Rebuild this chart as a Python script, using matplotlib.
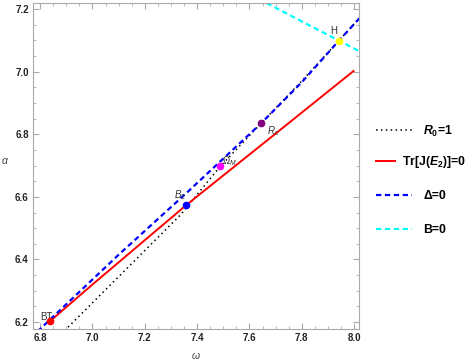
import matplotlib.pyplot as plt
from matplotlib.lines import Line2D
from matplotlib.ticker import MultipleLocator

plt.rcParams["font.family"] = ["Liberation Sans", "DejaVu Sans"]
plt.rcParams["mathtext.fontset"] = "custom"
plt.rcParams["mathtext.rm"] = "Liberation Sans"
plt.rcParams["mathtext.it"] = "Liberation Sans:italic"
plt.rcParams["mathtext.bf"] = "Liberation Sans:bold"
plt.rcParams["mathtext.bfit"] = "Liberation Sans:italic:bold"

# curve samples (omega, alpha)
r0_w = [6.88, 6.907, 7.10, 7.336, 7.489, 7.646, 7.80, 7.941, 8.03]
r0_a = [6.162, 6.184, 6.345, 6.542, 6.698, 6.836, 6.970, 7.098, 7.180]

tr_w = [6.838, 7.00, 7.359, 7.70, 7.998]
tr_a = [6.203, 6.320, 6.574, 6.802, 7.002]

delta_w = [6.79, 6.8077, 7.10, 7.359, 7.646, 7.80, 7.941, 8.03]
delta_a = [6.170, 6.184, 6.415, 6.612, 6.836, 6.966, 7.098, 7.179]

b_w = [7.60, 8.05]
b_a = [7.247, 7.052]

# special points
pt_names = ["BT", "$B_2$", r"$\Omega_{M}$", "$R_c$", "H"]
pt_w = [6.838, 7.359, 7.489, 7.646, 7.941]
pt_a = [6.203, 6.574, 6.698, 6.836, 7.098]
pt_colors = ["red", "blue", "magenta", "purple", "yellow"]
lab_w = [6.825, 7.336, 7.522, 7.690, 7.922]
lab_a = [6.216, 6.606, 6.715, 6.810, 7.130]

fig = plt.figure(figsize=(4.75, 3.61), dpi=100)
ax = fig.add_axes([0.0695, 0.0886, 0.6865, 0.9031])

dots = (0, (1, 2.2))
dash = (0, (2.4, 1.6))
ax.plot(r0_w, r0_a, color="black", ls=dots, lw=1.1)
ax.plot(tr_w, tr_a, color="red", lw=1.4)
ax.plot(delta_w, delta_a, color="blue", ls=dash, lw=1.6)
ax.plot(b_w, b_a, color="cyan", ls=dash, lw=1.6)

for n, w, a, c, lw_, la in zip(pt_names, pt_w, pt_a, pt_colors, lab_w, lab_a):
    ax.plot(w, a, "o", color=c, ms=4.5, zorder=5)
    ax.text(lw_, la, n, fontsize=7, color="#333333", ha="center", va="center")

ax.set_xlim(6.773, 8.019)
ax.set_ylim(6.178, 7.219)
ax.xaxis.set_major_locator(MultipleLocator(0.2))
ax.xaxis.set_minor_locator(MultipleLocator(0.05))
ax.yaxis.set_major_locator(MultipleLocator(0.2))
ax.yaxis.set_minor_locator(MultipleLocator(0.05))
ax.xaxis.set_major_formatter(lambda v, p: f"{v:.1f}")
ax.yaxis.set_major_formatter(lambda v, p: f"{v:.1f}")

for s in ax.spines.values():
    s.set_color("#aaaaaa")
ax.tick_params(which="both", direction="in", top=True, right=True, color="#aaaaaa",
               labelsize=7, labelcolor="#222222", pad=3)
ax.tick_params(which="major", length=4.5, width=0.8)
ax.tick_params(which="minor", length=2.5, width=0.6)
for t in ax.get_xticklabels() + ax.get_yticklabels():
    t.set_fontweight("bold")

ax.set_xlabel(r"$\omega$", fontsize=7.5, color="#444444")
ax.set_ylabel(r"$\alpha$", fontsize=7.5, color="#444444", rotation=0)
ax.xaxis.set_label_coords(0.5, -0.064)
ax.yaxis.set_label_coords(-0.085, 0.5)

# legend: one entry per box so each handle gets its own length
entries = [
    (Line2D([], [], color="black", ls=dots, lw=1.1), r"$\mathbfit{R}_\mathbf{0}$=1", 131, 2.95, 0.9),
    (Line2D([], [], color="red", lw=1.4), r"Tr[J($\mathbfit{E}_\mathbf{2}$)]=0", 162, 1.55, 0.6),
    (Line2D([], [], color="blue", ls=dash, lw=1.6), "Δ=0", 196, 2.95, 0.9),
    (Line2D([], [], color="cyan", ls=dash, lw=1.6), "B=0", 230, 2.95, 0.9),
]
for h, lab, ypix, hl, tp in entries:
    fig.legend([h], [lab], loc="center left", bbox_to_anchor=(376 / 475, 1 - ypix / 361),
               frameon=False, borderpad=0, borderaxespad=0, handlelength=hl,
               handletextpad=tp, prop={"weight": "bold", "size": 8.8})

fig.savefig("out.png", dpi=100)
